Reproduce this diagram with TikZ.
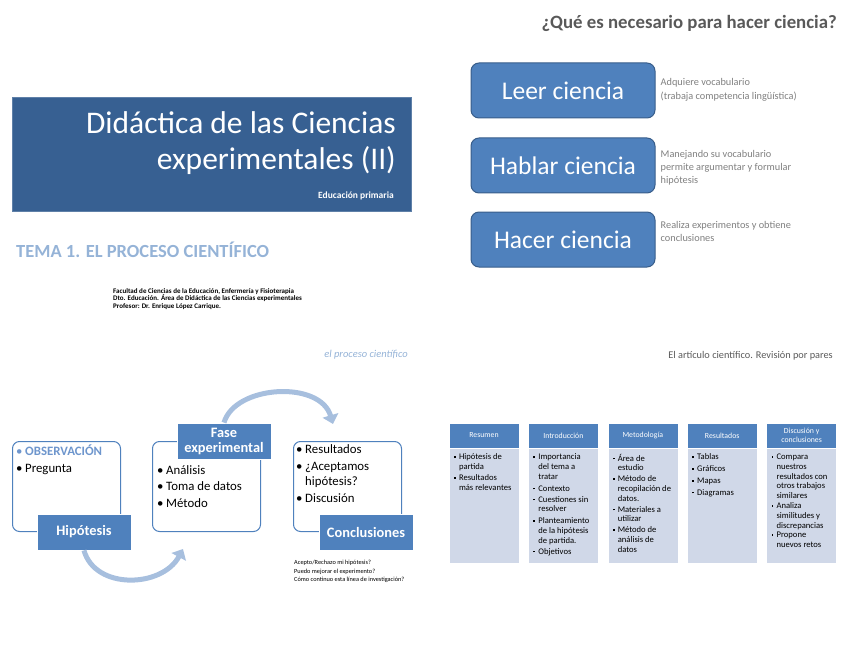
\documentclass[tikz,border=0pt]{standalone}
\usepackage{fontspec}
\setmainfont{Carlito}
\usetikzlibrary{positioning,arrows.meta,calc}

\definecolor{slideblue}{RGB}{55,96,146}
\definecolor{accent}{RGB}{79,129,189}
\definecolor{accentdark}{RGB}{56,93,138}
\definecolor{paleblue}{RGB}{149,179,215}
\definecolor{obsblue}{RGB}{110,150,205}
\definecolor{arcblue}{RGB}{167,191,222}
\definecolor{bodyblue}{RGB}{208,216,232}
\definecolor{greytext}{RGB}{127,127,127}
\definecolor{darkgrey}{RGB}{89,89,89}

\newcommand{\sq}{\makebox[5pt][l]{\rule[1.8pt]{1.7pt}{1.7pt}}}
\newcommand{\ind}{\hspace*{5pt}}
\newcommand{\bul}{\makebox[9pt][l]{\textbullet}}

\begin{document}
\begin{tikzpicture}[x=1pt, y=-1pt,
    slide/.style={rectangle, draw=slideblue!80!white, fill=slideblue, line width=0.8pt, minimum width=399pt, minimum height=114pt, anchor=north west},
    task/.style={rectangle, rounded corners=8pt, draw=accentdark, fill=accent, line width=1pt, minimum width=184pt, minimum height=55pt, text=white, font=\fontsize{25.5}{29}\selectfont},
    note/.style={align=left, inner sep=0pt, text=greytext, font=\fontsize{10.3}{13.3}\selectfont, anchor=north west},
    phase/.style={rectangle, rounded corners=7pt, draw=accent, line width=1pt, fill=white, minimum width=108pt, minimum height=90pt, anchor=north west},
    stage/.style={rectangle, draw=white, fill=accent, line width=0.8pt, minimum width=94pt, minimum height=36pt, text=white, font=\fontsize{14.4}{15}\selectfont\bfseries, align=center},
    bullets/.style={align=left, inner sep=0pt, anchor=north west, font=\fontsize{12.8}{14.5}\selectfont},
    colhead/.style={rectangle, draw=white, fill=accent, minimum width=70pt, minimum height=25pt, text=white, font=\fontsize{7.8}{9.3}\selectfont, align=center},
    colbody/.style={rectangle, draw=white, fill=bodyblue, minimum width=70pt, minimum height=115pt},
    coltext/.style={align=left, inner sep=0pt, anchor=north west, font=\fontsize{8.6}{9.8}\selectfont},
    loopar/.style={line width=5pt, draw=arcblue, -{Triangle[length=9pt,width=16pt]}}
]
    \useasboundingbox (0,0) rectangle (848,655);

    % Cover slide
    \node[slide] (cover) at (12,97) {};
    \node[anchor=base east, inner sep=0pt, text=white, font=\fontsize{31.5}{36}\selectfont] (title1) at (396,134) {Didáctica de las Ciencias};
    \node[anchor=base east, inner sep=0pt, text=white, font=\fontsize{31.5}{36}\selectfont] (title2) at (396,170) {experimentales (II)};
    \node[anchor=base east, inner sep=0pt, text=white, font=\fontsize{9.5}{11}\selectfont\bfseries] (level) at (394,199) {Educación primaria};
    \node[anchor=base west, inner sep=0pt, text=paleblue, font=\fontsize{18.5}{21}\selectfont\bfseries] (tema) at (16,257) {TEMA 1. EL PROCESO CIENTÍFICO};
    \node[anchor=north west, align=left, inner sep=0pt, font=\fontsize{7}{7.6}\selectfont\bfseries] (faculty) at (113,288)
        {Facultad de Ciencias de la Educación, Enfermería y Fisioterapia\\
         Dto. Educación. Área de Didáctica de las Ciencias experimentales\\
         Profesor: Dr. Enrique López Carrique.};

    % Que es necesario
    \node[anchor=base east, inner sep=0pt, text=darkgrey, font=\fontsize{18.8}{22}\selectfont\bfseries] (question) at (837,29) {¿Qué es necesario para hacer ciencia?};
    \node[task] (leer) at (563,90.5) {Leer ciencia};
    \node[task, below=19pt of leer] (hablar) {Hablar ciencia};
    \node[task, below=18pt of hablar] (hacer) {Hacer ciencia};

    \node[note] (leernote) at ($(leer.north east)+(5,16)$) {Adquiere vocabulario\\(trabaja competencia lingüística)};
    \node[note] (hablarnote) at ($(hablar.north east)+(5,12.5)$) {Manejando su vocabulario\\permite argumentar y formular\\hipótesis};
    \node[note] (hacernote) at ($(hacer.north east)+(5,9.5)$) {Realiza experimentos y obtiene\\conclusiones};

    % El proceso cientifico
    \node[anchor=base east, inner sep=0pt, text=paleblue, font=\fontsize{10.5}{12}\selectfont\itshape] (proceso) at (408,357) {el proceso científico};

    \node[phase] (obsframe) at (12,441) {};
    \node[phase, right=31pt of obsframe] (fasframe) {};
    \node[phase, right=32pt of fasframe] (conframe) {};

    \node[bullets] (obslist) at (16,445) {\textcolor{obsblue}{\bul\textbf{OBSERVACIÓN}}\\[2.5pt]\bul Pregunta};
    \node[bullets] (faslist) at (157,465) {\bul Análisis\\[2pt]\bul Toma de datos\\[2pt]\bul Método};
    \node[bullets] (conlist) at (296,444) {\bul Resultados\\[3pt]\bul ¿Aceptamos\\\hspace*{9pt}hipótesis?\\[3pt]\bul Discusión};

    \node[stage] (hipo) at ($(obsframe.south west)+(72,0)$) {Hipótesis};
    \node[stage] (fase) at ($(fasframe.north west)+(72,0)$) {Fase\\experimental};
    \node[stage] (conc) at ($(conframe.south west)+(73,0)$) {Conclusiones};

    \coordinate (arcin) at (183,549);
    \coordinate (arcout) at (333,424);
    \draw[loopar] (hipo.south) .. controls (95,590) and (162,588) .. (arcin);
    \draw[loopar] (fase.north) .. controls (235,385) and (320,380) .. (arcout);

    \node[anchor=north west, align=left, inner sep=0pt, font=\fontsize{6.3}{8.5}\selectfont] (concnote) at (294,560)
        {Acepto/Rechazo mi hipótesis?\\Puedo mejorar el experimento?\\Cómo continuo esta línea de investigación?};

    % El articulo cientifico
    \node[anchor=base east, inner sep=0pt, text=darkgrey, font=\fontsize{10.3}{12}\selectfont] (articulo) at (833,358) {El artículo científico. Revisión por pares};

    \node[colhead] (resumen) at (484,435.5) {Resumen};
    \node[colhead, right=9pt of resumen] (intro) {Introducción};
    \node[colhead, right=9pt of intro] (metodo) {Metodología};
    \node[colhead, right=9pt of metodo] (result) {Resultados};
    \node[colhead, right=9pt of result] (discu) {Discusión y\\conclusiones};

    \node[colbody, below=0pt of resumen] (resbody) {};
    \node[colbody, below=0pt of intro] (introbody) {};
    \node[colbody, below=0pt of metodo] (metbody) {};
    \node[colbody, below=0pt of result] (resulbody) {};
    \node[colbody, below=0pt of discu] (discbody) {};

    \node[coltext] (restext) at ($(resbody.north west)+(5,5.5)$) {\sq Hipótesis de\\\ind partida\\[1pt]\sq Resultados\\\ind más relevantes};
    \node[coltext] (introtext) at ($(introbody.north west)+(5,5.5)$) {\sq Importancia\\\ind del tema a\\\ind tratar\\[2pt]\sq Contexto\\[1pt]\sq Cuestiones sin\\\ind resolver\\[2pt]\sq Planteamiento\\\ind de la hipótesis\\\ind de partida.\\[1pt]\sq Objetivos};
    \node[coltext] (mettext) at ($(metbody.north west)+(5,5.5)$) {\sq Área de\\\ind estudio\\[1pt]\sq Método de\\\ind recopilación de\\\ind datos.\\[1pt]\sq Materiales a\\\ind utilizar\\[1pt]\sq Método de\\\ind análisis de\\\ind datos};
    \node[coltext] (resultext) at ($(resulbody.north west)+(5,5.5)$) {\sq Tablas\\[2pt]\sq Gráficos\\[2pt]\sq Mapas\\[2pt]\sq Diagramas};
    \node[coltext] (disctext) at ($(discbody.north west)+(5,5.5)$) {\sq Compara\\\ind nuestros\\\ind resultados con\\\ind otros trabajos\\\ind similares\\\sq Analiza\\\ind similitudes y\\\ind discrepancias\\\sq Propone\\\ind nuevos retos};
\end{tikzpicture}
\end{document}
